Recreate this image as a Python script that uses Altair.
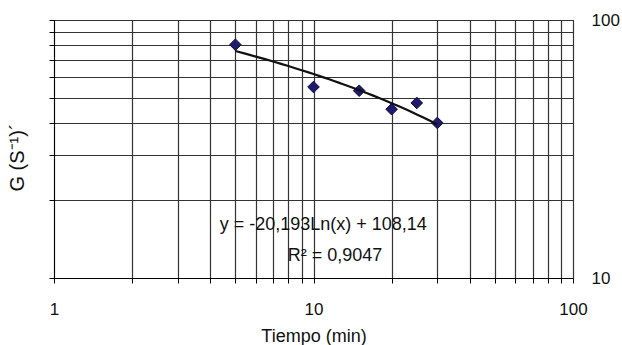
import altair as alt
import pandas as pd

# data
tiempo = [5, 10, 15, 20, 25, 30]
g_vals = [80.2, 55.0, 53.2, 45.1, 47.7, 39.9]

x_ticks = [1, 2, 3, 4, 5, 6, 7, 8, 9, 10, 20, 30, 40, 50, 60, 70, 80, 90, 100]
y_ticks = [10, 20, 30, 40, 50, 60, 70, 80, 90, 100]
y_labels = [10, 100]

ann_text = ["y = -20,193Ln(x) + 108,14", "R² = 0,9047"]
ann_x = [10.9, 12.1]
ann_y = [16.05, 12.17]

df = pd.DataFrame({"t": tiempo, "g": g_vals})
ann = pd.DataFrame({"txt": ann_text, "t": ann_x, "g": ann_y})

FONT = "Liberation Sans"
INK = "#111111"

xscale = alt.Scale(type="log", domain=[1, 100], nice=False)
yscale = alt.Scale(type="log", domain=[10, 100], nice=False)

x_enc = alt.X(
    "t:Q",
    scale=xscale,
    axis=alt.Axis(
        values=x_ticks,
        labelExpr="(datum.value == 1 || datum.value == 10 || datum.value == 100) ? datum.value : ''",
        labelOverlap=False,
        labelFlush=False,
        tickSize=5,
        labelPadding=18,
        title="Tiempo (min)",
        titlePadding=10,
        grid=True,
    ),
)

points = alt.Chart(df).mark_point(
    shape="diamond", filled=True, size=135, color="#1f1a6b",
    stroke="#0d0b40", strokeWidth=1, opacity=1
).encode(
    x=x_enc,
    y=alt.Y(
        "g:Q",
        scale=yscale,
        axis=alt.Axis(
            orient="left",
            values=y_ticks,
            labels=False,
            tickSize=5,
            grid=True,
            title="G (S⁻¹)´",
            titleFontSize=20,
            titleX=-27,
            titleY=137,
        ),
    ),
)

trend = alt.Chart(df).transform_regression(
    "t", "g", method="log"
).mark_line(color="#111111", strokeWidth=2.2).encode(
    x=alt.X("t:Q", scale=xscale),
    y=alt.Y(
        "g:Q",
        scale=yscale,
        axis=alt.Axis(
            orient="right",
            values=y_labels,
            ticks=False,
            domain=False,
            grid=False,
            labelAlign="left",
            labelBaseline="middle",
            labelPadding=18,
            labelFlush=False,
            labelOverlap=False,
            title=None,
        ),
    ),
)

texts = alt.Chart(ann).mark_text(
    font=FONT, fontSize=18, color=INK, align="center", baseline="middle"
).encode(
    x=alt.X("t:Q", scale=xscale),
    y=alt.Y("g:Q", scale=yscale, axis=None),
    text="txt:N",
)

chart = alt.layer(points, trend, texts).resolve_axis(y="independent").properties(
    width=519,
    height=258,
    autosize=alt.AutoSizeParams(type="none"),
    padding={"left": 54, "top": 20, "right": 49, "bottom": 67},
    background="white",
).configure_axis(
    domainColor="#000000",
    domainWidth=1,
    tickColor="#000000",
    tickWidth=1,
    gridColor="#333333",
    gridWidth=1.2,
    gridOpacity=1,
    labelFont=FONT,
    labelFontSize=17,
    labelColor=INK,
    titleFont=FONT,
    titleFontSize=18,
    titleFontWeight="normal",
    titleColor=INK,
).configure_view(stroke="#000000", strokeWidth=1)

chart.save("out.html", embed_options={"renderer": "svg", "actions": False})
